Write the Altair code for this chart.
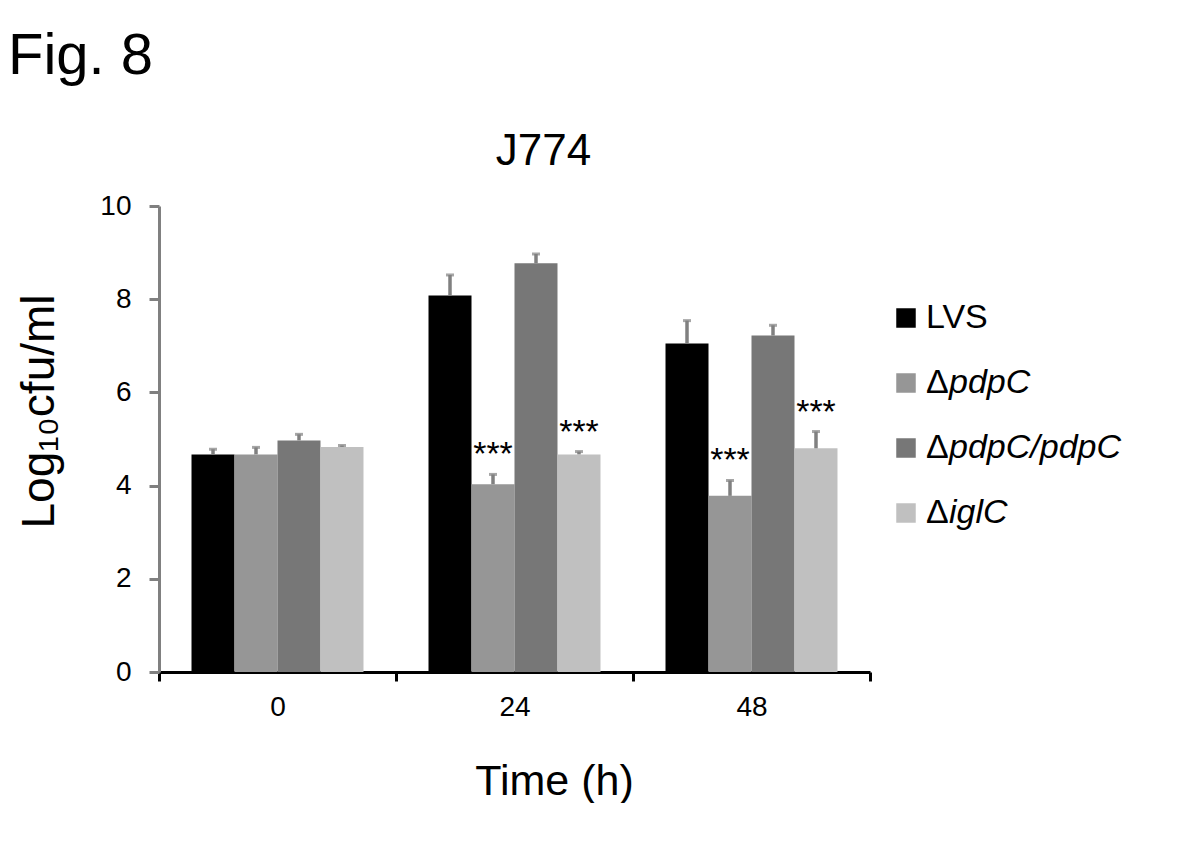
import altair as alt
import pandas as pd

times = ["0", "24", "48"]
strains = ["LVS", "ΔpdpC", "ΔpdpC/pdpC", "ΔiglC"]
strain_prefix = ["", "Δ", "Δ", "Δ"]
strain_rest = ["LVS", "pdpC", "pdpC/pdpC", "iglC"]
colors = ["#000000", "#969696", "#777777", "#c0c0c0"]

# mean log10 cfu/ml per time (rows) and strain (columns)
means = [
    [4.67, 4.67, 4.97, 4.83],
    [8.08, 4.03, 8.77, 4.67],
    [7.05, 3.78, 7.22, 4.80],
]
# top of error bar (mean + SD)
err_tops = [
    [4.78, 4.82, 5.10, 4.86],
    [8.52, 4.24, 8.97, 4.73],
    [7.54, 4.11, 7.44, 5.16],
]
stars = [
    ["", "", "", ""],
    ["", "***", "", "***"],
    ["", "***", "", "***"],
]

rows = []
for i, t in enumerate(times):
    for j, s in enumerate(strains):
        rows.append({"time": t, "strain": s, "order": j,
                     "mean": means[i][j], "top": err_tops[i][j], "star": stars[i][j]})
df = pd.DataFrame(rows)

leg = pd.DataFrame({"strain": strains, "prefix": strain_prefix, "rest": strain_rest})

FONT = "Liberation Sans"

x_enc = alt.X("time:N", sort=times,
              scale=alt.Scale(paddingInner=0, paddingOuter=0),
              axis=alt.Axis(title="Time (h)", labelAngle=0, tickBand="extent",
                            domainColor="#000000", tickColor="#000000",
                            domainWidth=3, tickWidth=3, tickSize=9,
                            labelFontSize=28, labelPadding=12, labelColor="#000000",
                            titleFontSize=43, titleFontWeight="normal",
                            titleX=395, titleY=122, titleBaseline="alphabetic"))
xo = alt.XOffset("strain:N", sort=strains,
                 scale=alt.Scale(paddingInner=0, paddingOuter=0.756))
y_scale = alt.Scale(domain=[0, 10])

color = alt.Color("strain:N", sort=strains,
                  scale=alt.Scale(domain=strains, range=colors), legend=None)

bars = alt.Chart(df).mark_bar().encode(
    x=x_enc, xOffset=xo,
    y=alt.Y("mean:Q", scale=y_scale,
            axis=alt.Axis(title="Log₁₀cfu/ml", values=[0, 2, 4, 6, 8, 10], grid=False,
                          domainColor="#808080", tickColor="#808080",
                          domainWidth=3, tickWidth=3, tickSize=10,
                          labelFontSize=28, labelPadding=18, labelColor="#000000",
                          titleFontSize=46, titleFontWeight="normal",
                          titleX=-106, titleY=205, titleBaseline="alphabetic")),
    color=color,
)

rules = alt.Chart(df).mark_rule(color="#808080", strokeWidth=3.5).encode(
    x=alt.X("time:N", sort=times), xOffset=xo,
    y="mean:Q", y2="top:Q",
)
caps = alt.Chart(df).mark_tick(color="#808080", thickness=3, size=8, orient="horizontal").encode(
    x=alt.X("time:N", sort=times), xOffset=xo,
    y="top:Q",
)
star_text = alt.Chart(df).mark_text(fontSize=34, font=FONT, dy=-19, baseline="middle",
                                    color="#000000").encode(
    x=alt.X("time:N", sort=times), xOffset=xo,
    y="top:Q", text="star:N",
)

main = alt.layer(bars, rules, caps, star_text).properties(
    width=711, height=466,
    title=alt.TitleParams("J774", fontSize=44, fontWeight="normal", font=FONT,
                          dx=29, offset=18),
)

ly = alt.Y("strain:N", sort=strains, axis=None,
           scale=alt.Scale(type="point", range=[112, 307], padding=0))
sw = alt.Chart(leg).mark_square(size=380, opacity=1).encode(
    x=alt.value(10), y=ly, color=alt.Color("strain:N", sort=strains,
                                           scale=alt.Scale(domain=strains, range=colors),
                                           legend=None))
lvs = alt.Chart(leg).transform_filter(alt.datum.prefix == "").mark_text(
    fontSize=34, font=FONT, align="left", baseline="middle", color="#000000").encode(
    x=alt.value(30), y=ly, text="rest:N")
delta = alt.Chart(leg).transform_filter(alt.datum.prefix != "").mark_text(
    fontSize=34, font=FONT, align="left", baseline="middle", color="#000000").encode(
    x=alt.value(30), y=ly, text="prefix:N")
rest = alt.Chart(leg).transform_filter(alt.datum.prefix != "").mark_text(
    fontSize=34, font=FONT, align="left", baseline="middle", fontStyle="italic",
    color="#000000").encode(
    x=alt.value(53), y=ly, text="rest:N")
legend_chart = alt.layer(sw, lvs, delta, rest).properties(width=260, height=466)

chart = alt.hconcat(main, legend_chart, spacing=24).properties(
    title=alt.TitleParams("Fig. 8", fontSize=58, fontWeight="normal", font=FONT,
                          anchor="start", offset=44, dx=-8),
    padding={"left": 0, "top": 20, "right": 0, "bottom": 0},
).configure(font=FONT).configure_view(stroke=None).configure_axis(
    labelFont=FONT, titleFont=FONT)

chart.save("out.html", embed_options={"renderer": "svg", "actions": False})
